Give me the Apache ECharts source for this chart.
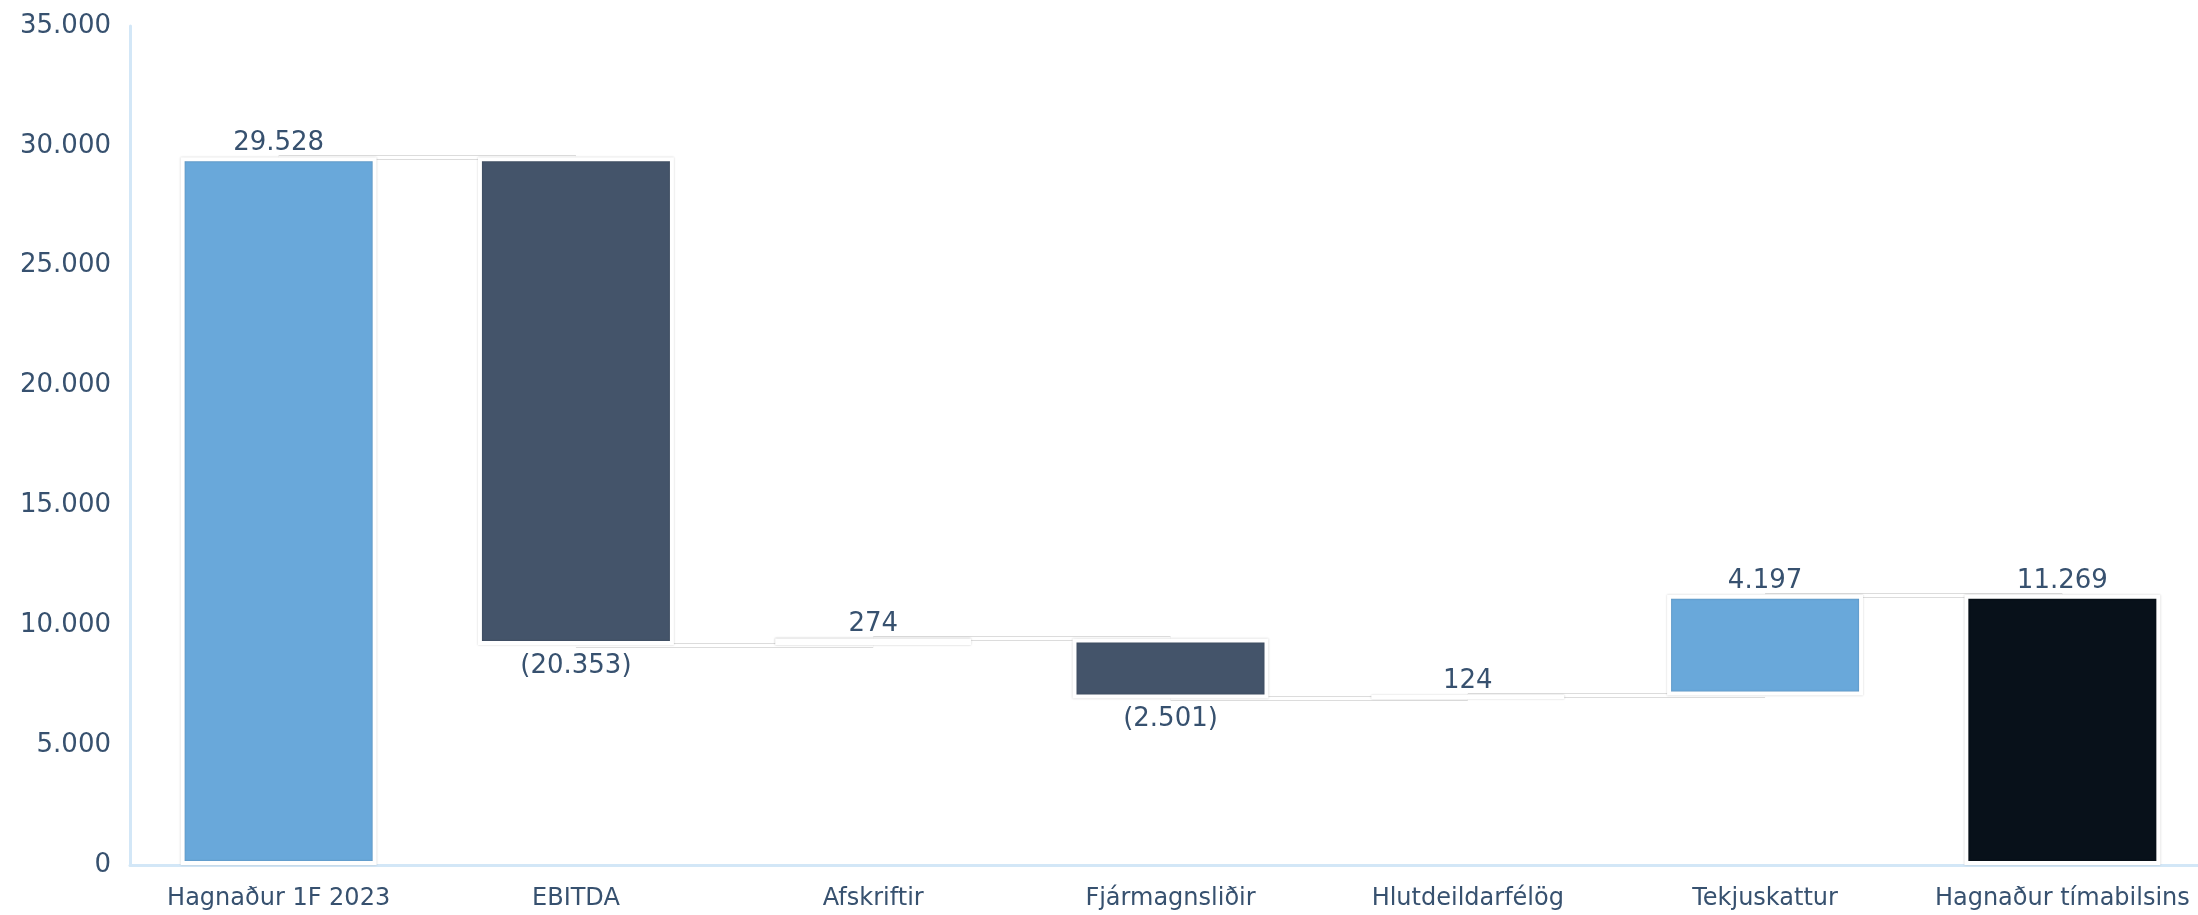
<!DOCTYPE html>
<html>
<head>
<meta charset="utf-8">
<title>Waterfall</title>
<script src="https://cdn.jsdelivr.net/npm/echarts@6/dist/echarts.min.js"></script>
<style>
  html, body { margin: 0; padding: 0; background: #fff; }
  #chart { width: 2198px; height: 915px; }
</style>
</head>
<body>
<div id="chart"></div>
<script>
// data
var categories = ["Hagnaður 1F 2023", "EBITDA", "Afskriftir", "Fjármagnsliðir", "Hlutdeildarfélög", "Tekjuskattur", "Hagnaður tímabilsins"];
var changes = [29528, -20353, 274, -2501, 124, 4197, 11269];
var isTotal = [true, false, false, false, false, false, true];
var barColors = ["#69a8da", "#44546a", "#69a8da", "#44546a", "#69a8da", "#69a8da", "#08111a"];
var yTicks = [0, 5000, 10000, 15000, 20000, 25000, 30000, 35000];

var textColor = "#37516f";
var axisColor = "#d3e7f7";

function fmt(v) {
  return String(Math.abs(v)).replace(/\B(?=(\d{3})+(?!\d))/g, ".");
}

// running totals -> base + height for each bar
var base = [], height = [], levels = [];
var running = 0;
changes.forEach(function (c, i) {
  if (isTotal[i]) {
    base.push(0);
    height.push(c);
    running = c;
  } else {
    var next = running + c;
    base.push(Math.min(running, next));
    height.push(Math.abs(c));
    running = next;
  }
  levels.push(running);
});

// connectors between neighbouring bars
var connectors = [];
for (var i = 0; i < categories.length - 1; i++) {
  connectors.push([
    { coord: [categories[i], levels[i]] },
    { coord: [categories[i + 1], levels[i]] }
  ]);
}

function connectorSeries(color, width, z) {
  return {
    type: "line",
    data: [],
    z: 1,
    silent: true,
    markLine: {
      z: z,
      silent: true,
      symbol: "none",
      animation: false,
      label: { show: false },
      lineStyle: { color: color, width: width, type: "solid" },
      emphasis: { disabled: true },
      data: connectors
    }
  };
}

var chart = echarts.init(document.getElementById("chart"), null, { renderer: "canvas" });

chart.setOption({
  animation: false,
  textStyle: { fontFamily: "DejaVu Sans" },
  grid: { left: 130, width: 2081, top: 26, bottom: 50, containLabel: false, outerBoundsMode: "none" },
  xAxis: {
    type: "category",
    data: categories,
    axisTick: { show: false },
    axisLine: { show: true, lineStyle: { color: axisColor, width: 3 } },
    axisLabel: { color: textColor, fontSize: 24, margin: 22, interval: 0 },
    splitLine: { show: false }
  },
  yAxis: {
    type: "value",
    min: yTicks[0],
    max: yTicks[yTicks.length - 1],
    interval: yTicks[1] - yTicks[0],
    axisLine: { show: true, lineStyle: { color: axisColor, width: 3 } },
    axisTick: { show: false },
    splitLine: { show: false },
    axisLabel: {
      color: textColor,
      fontSize: 26,
      margin: 19,
      formatter: function (v) { return fmt(v); }
    }
  },
  series: [
    connectorSeries("#dcdcdc", 5, 1),
    connectorSeries("#ffffff", 3, 1.5),
    {
      type: "bar",
      stack: "wf",
      z: 3,
      silent: true,
      barWidth: 196,
      itemStyle: { color: "transparent" },
      data: base
    },
    {
      type: "bar",
      stack: "wf",
      z: 3,
      barWidth: 196,
      data: height.map(function (h, i) {
        var neg = changes[i] < 0;
        return {
          value: h,
          itemStyle: { color: barColors[i] },
          label: {
            position: neg ? "bottom" : "top",
            distance: neg ? 8 : 1
          }
        };
      }),
      itemStyle: {
        borderColor: "#ffffff",
        borderWidth: 4,
        shadowColor: "rgba(0,0,0,0.22)",
        shadowBlur: 2
      },
      label: {
        show: true,
        color: textColor,
        fontSize: 26,
        formatter: function (p) {
          var c = changes[p.dataIndex];
          return c < 0 ? "(" + fmt(c) + ")" : fmt(c);
        }
      }
    }
  ]
});
</script>
</body>
</html>
